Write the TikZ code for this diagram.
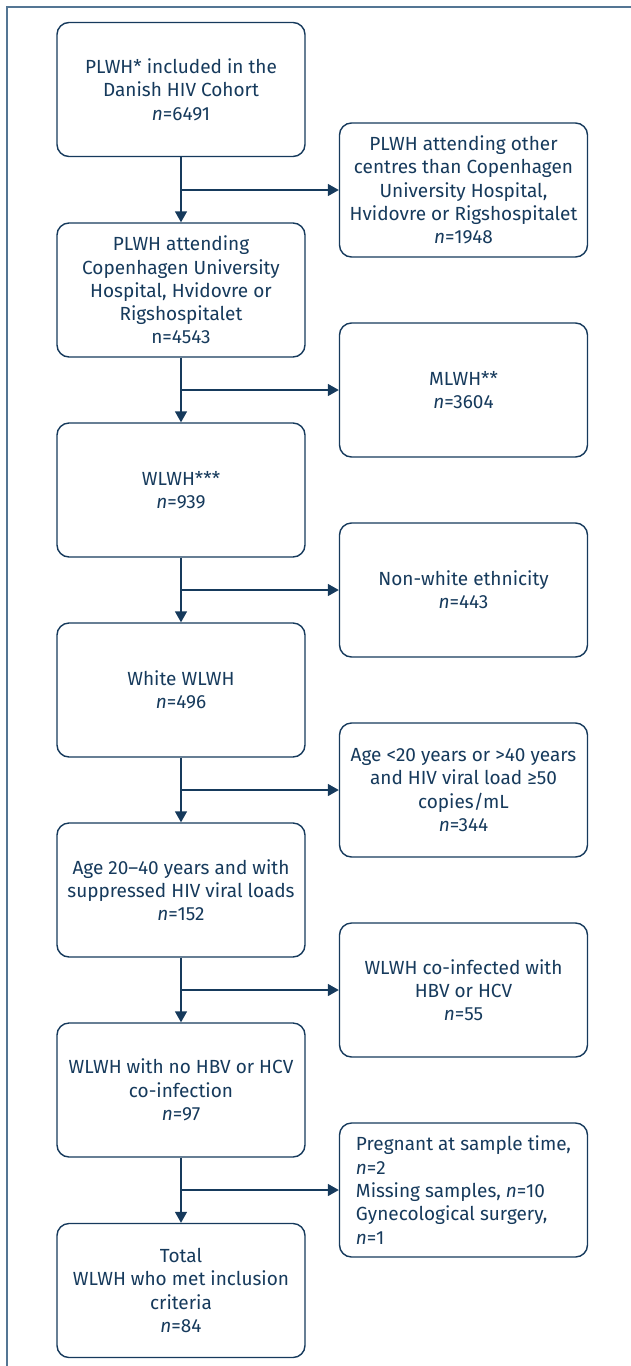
\documentclass[tikz,border=0pt]{standalone}
\usepackage{fontspec}
\setmainfont{Fira Sans}
\usetikzlibrary{arrows.meta}
\definecolor{navy}{RGB}{22,58,92}
\definecolor{frame-blue}{RGB}{84,118,148}
\tikzset{
    flow-box/.style = {draw=navy, text=navy, fill=white, line width=1.4pt, rectangle, rounded corners=12pt,
        minimum width=248pt, minimum height=134pt, inner sep=3pt, align=center,
        font=\fontsize{19}{23.3}\selectfont},
    excl-box/.style = {flow-box},
    flow-arrow/.style = {draw=navy, line width=1.5pt, -{Triangle[length=11pt,width=12pt]}},
    frame-line/.style = {draw=frame-blue, line width=2pt},
}

\begin{document}
\begin{tikzpicture}[x=1pt,y=-1pt]
\useasboundingbox (0,0) rectangle (631,1366);
\draw[frame-line] (631,7) -- (7,7) -- (7,1366);

% main flow
\node[flow-box] (cohort) at (181,89.5) {PLWH* included in the\\Danish HIV Cohort\\\textit{n}=6491};
\node[flow-box] (hospital) at (181,290) {PLWH attending\\Copenhagen University\\Hospital, Hvidovre or\\Rigshospitalet\\n=4543};
\node[flow-box] (women) at (181,490) {WLWH***\\\textit{n}=939};
\node[flow-box] (white) at (181,690) {White WLWH\\\textit{n}=496};
\node[flow-box] (age) at (181,890) {Age 20–40 years and with\\suppressed HIV viral loads\\\textit{n}=152};
\node[flow-box] (nocoinf) at (181,1090) {WLWH with no HBV or HCV\\co-infection\\\textit{n}=97};
\node[flow-box] (total) at (181,1290.5) {Total\\WLWH who met inclusion\\criteria\\\textit{n}=84};

% exclusions
\node[excl-box] (other) at (463.5,190) {PLWH attending other\\centres than Copenhagen\\University Hospital,\\Hvidovre or Rigshospitalet\\\textit{n}=1948};
\node[excl-box] (men) at (463.5,390) {MLWH**\\\textit{n}=3604};
\node[excl-box] (nonwhite) at (463.5,590) {Non-white ethnicity\\\textit{n}=443};
\node[excl-box] (viral) at (463.5,790) {Age <20 years or >40 years\\and HIV viral load ≥50\\copies/mL\\\textit{n}=344};
\node[excl-box] (coinf) at (463.5,990) {WLWH co-infected with\\HBV or HCV\\\textit{n}=55};
\node[excl-box, align=left] (missing) at (463.5,1190) {Pregnant at sample time,\\\textit{n}=2\\Missing samples, \textit{n}=10\\Gynecological surgery,\\\textit{n}=1};

% connectors
\draw[flow-arrow] (cohort) -- (hospital);
\draw[flow-arrow] (hospital) -- (women);
\draw[flow-arrow] (women) -- (white);
\draw[flow-arrow] (white) -- (age);
\draw[flow-arrow] (age) -- (nocoinf);
\draw[flow-arrow] (nocoinf) -- (total);
\draw[flow-arrow] (cohort.south |- other.west) -- (other.west);
\draw[flow-arrow] (hospital.south |- men.west) -- (men.west);
\draw[flow-arrow] (women.south |- nonwhite.west) -- (nonwhite.west);
\draw[flow-arrow] (white.south |- viral.west) -- (viral.west);
\draw[flow-arrow] (age.south |- coinf.west) -- (coinf.west);
\draw[flow-arrow] (nocoinf.south |- missing.west) -- (missing.west);
\end{tikzpicture}
\end{document}
